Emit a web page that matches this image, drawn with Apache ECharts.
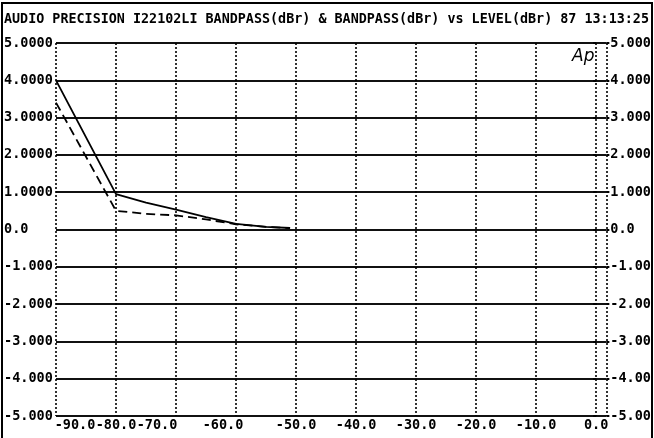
<!DOCTYPE html>
<html>
<head>
<meta charset="utf-8">
<script src="https://cdn.jsdelivr.net/npm/echarts@6/dist/echarts.min.js"></script>
<style>
html,body{margin:0;padding:0;background:#fff;}
#c{width:654px;height:438px;}
</style>
</head>
<body>
<div id="c"></div>
<script>
const titleText = 'AUDIO PRECISION I22102LI BANDPASS(dBr) & BANDPASS(dBr) vs LEVEL(dBr) 87 13:13:25';
const xTickValues = [-90, -80, -70, -60, -50, -40, -30, -20, -10, 0];
const xTickLabels = ['-90.0', '-80.0', '-70.0', '-60.0', '-50.0', '-40.0', '-30.0', '-20.0', '-10.0', '0.0'];
const yTickValues = [-5, -4, -3, -2, -1, 0, 1, 2, 3, 4, 5];
const yLeftLabels = ['-5.000', '-4.000', '-3.000', '-2.000', '-1.000', '0.0', '1.0000', '2.0000', '3.0000', '4.0000', '5.0000'];
const yRightLabels = ['-5.00', '-4.00', '-3.00', '-2.00', '-1.00', '0.0', '1.000', '2.000', '3.000', '4.000', '5.000'];
const levels = [-90, -80, -75, -70, -65, -60, -55, -51];
const bandpassSolid = [4.0, 0.95, 0.72, 0.53, 0.33, 0.15, 0.07, 0.04];
const bandpassDashed = [3.4, 0.5, 0.42, 0.38, 0.27, 0.14, 0.07, 0.04];

const FONT = '"DejaVu Sans Mono", "Liberation Mono", monospace';
// label nudges: positive = shift right, negative = shift left (px)
const xShift = { '-90.0': 19, '-70.0': -19, '-60.0': -13 };

function pairs(xs, ys) { return xs.map((x, i) => [x, ys[i]]); }
const rich = {};
const richKey = {};
Object.keys(xShift).forEach((k, j) => {
  const s = xShift[k];
  const key = 'r' + j;
  richKey[k] = key;
  rich[key] = {
    padding: s > 0 ? [0, 0, 0, 2 * s] : [0, -2 * s, 0, 0],
    fontFamily: FONT, fontWeight: 'bold', fontSize: 13.5, color: '#000'
  };
});
function xLabel(v) {
  const i = xTickValues.indexOf(Math.round(v * 1000) / 1000);
  if (i < 0) return '';
  const t = xTickLabels[i];
  return richKey[t] ? '{' + richKey[t] + '|' + t + '}' : t;
}
function yLabel(arr) {
  return function (v) {
    const i = yTickValues.indexOf(Math.round(v * 1000) / 1000);
    return i < 0 ? '' : arr[i];
  };
}

const chart = echarts.init(document.getElementById('c'), null, { renderer: 'canvas' });
chart.setOption({
  animation: false,
  backgroundColor: '#fff',
  title: {
    text: titleText,
    left: 4, top: 13, padding: 0,
    textStyle: { fontFamily: FONT, fontWeight: 'bold', fontSize: 13.4, color: '#000' }
  },
  grid: { left: 56, right: 46, top: 43, bottom: 22 },
  xAxis: {
    type: 'value', min: -90, max: 1.7, interval: 10,
    axisLine: { show: false },
    axisTick: { show: false },
    splitLine: { show: true, lineStyle: { type: [2, 2], color: '#000', width: 1.6 } },
    axisLabel: {
      formatter: xLabel, rich: rich, margin: 2,
      fontFamily: FONT, fontWeight: 'bold', fontSize: 13.5, color: '#000'
    }
  },
  yAxis: [
    {
      type: 'value', min: -5, max: 5, interval: 1, position: 'left',
      axisLine: { show: false },
      axisTick: { show: true, length: 3, lineStyle: { color: '#000', width: 2 } },
      splitLine: { show: true, lineStyle: { type: 'solid', color: '#111', width: 2 } },
      axisLabel: {
        formatter: yLabel(yLeftLabels), align: 'left', margin: 52,
        fontFamily: FONT, fontWeight: 'bold', fontSize: 13.5, color: '#000'
      }
    },
    {
      type: 'value', min: -5, max: 5, interval: 1, position: 'right',
      axisLine: { show: false },
      axisTick: { show: true, length: 3, lineStyle: { color: '#000', width: 2 } },
      splitLine: { show: false },
      axisLabel: {
        formatter: yLabel(yRightLabels), align: 'left', margin: 4,
        fontFamily: FONT, fontWeight: 'bold', fontSize: 13.5, color: '#000'
      }
    }
  ],
  graphic: [
    { type: 'rect', shape: { x: 2, y: 3, width: 650, height: 440 }, style: { fill: null, stroke: '#000', lineWidth: 2 }, silent: true, z: 100 },
    { type: 'text', left: 572, top: 48, style: { text: 'Ap', font: 'italic 17px "DejaVu Sans", sans-serif', fill: '#000' }, z: 100 }
  ],
  series: [
    {
      name: 'BANDPASS solid', type: 'line', data: pairs(levels, bandpassSolid),
      symbol: 'none', smooth: false,
      lineStyle: { color: '#000', width: 1.8, type: 'solid' }, z: 5
    },
    {
      name: 'BANDPASS dashed', type: 'line', data: pairs(levels, bandpassDashed),
      symbol: 'none', smooth: false,
      lineStyle: { color: '#000', width: 1.8, type: [9, 5] }, z: 5
    }
  ]
});
</script>
</body>
</html>
